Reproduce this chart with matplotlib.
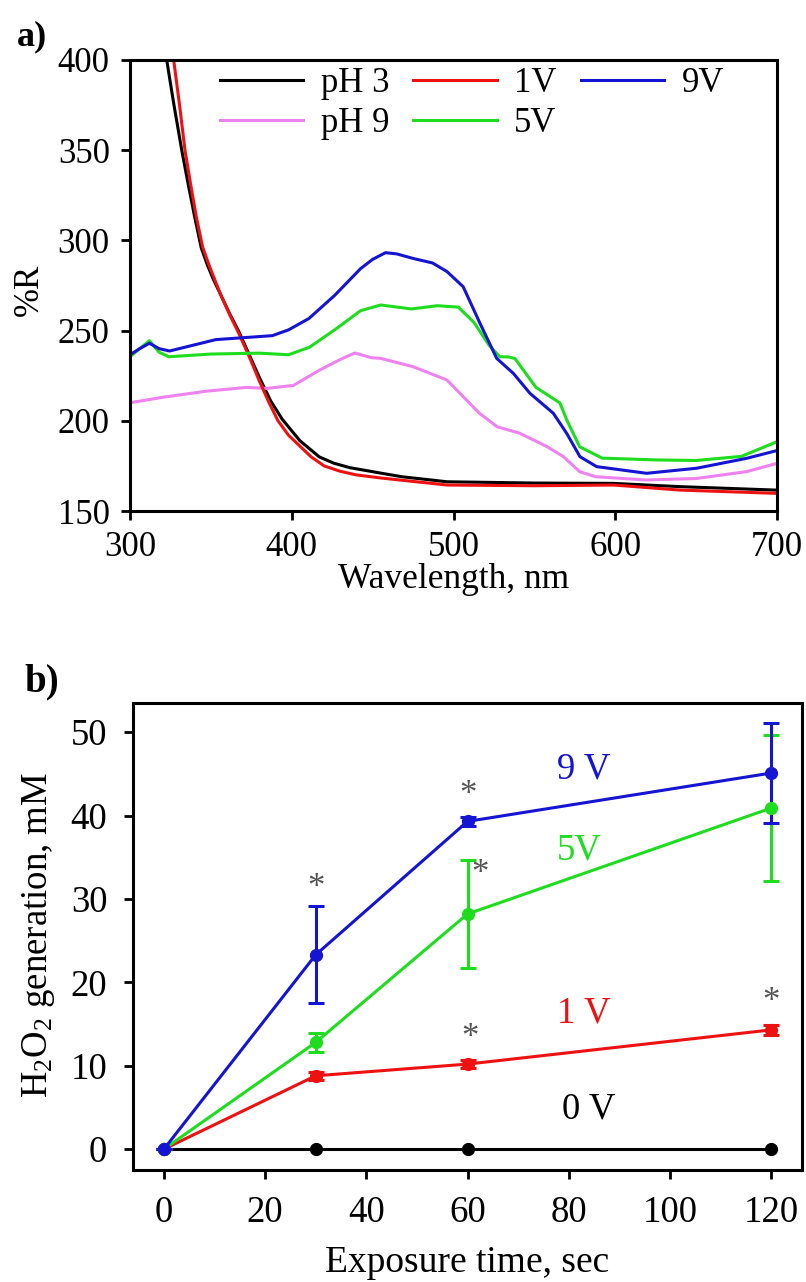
"""
Reflectance spectra (a) and H2O2 generation vs exposure time (b).
"""

import matplotlib

matplotlib.use("Agg")
import matplotlib.pyplot as plt

plt.rcParams["font.family"] = ["Liberation Serif", "DejaVu Serif"]
plt.rcParams["mathtext.fontset"] = "custom"
plt.rcParams["mathtext.rm"] = "Liberation Serif"
plt.rcParams["mathtext.it"] = "Liberation Serif:italic"

BLACK = "#000000"
RED = "#ee1111"
GREEN = "#1edc1e"
BLUE = "#1414d2"
VIOLET = "#ee82ee"
STAR = "#555555"

# ---- panel a: %R spectra ----
wl_ph3 = [322.7, 327, 332, 336, 340, 344, 348, 351.5, 356, 361.8, 367, 374, 380, 387, 394, 405, 417, 426,
          436, 455, 468, 496, 550, 599, 640, 699]
r_ph3 = [400, 376, 350, 331, 313, 296, 286, 278.5, 270, 259, 250, 236, 224, 211, 201, 189, 180, 176.5,
         174, 171, 169, 166.2, 165.5, 165.3, 163.5, 161.6]

wl_1v = [327, 330.5, 334, 337.5, 341, 345, 349, 352.5, 356, 361.8, 367, 374, 380, 386, 391.5, 398, 405,
         412, 420, 430, 440, 455, 496, 550, 599, 640, 699]
r_1v = [400, 376, 350, 331, 313, 296, 286, 278, 270, 258.5, 249, 235, 222, 210, 200, 192, 186, 180, 175,
        172, 170, 168.3, 164.4, 164, 164.4, 161.6, 159.8]

wl_ph9 = [300, 320, 347, 372, 385, 401, 417, 430, 439, 449, 455, 475, 496, 506, 516, 527, 541, 558, 568,
          578, 588, 619, 650, 681, 700]
r_ph9 = [210, 213, 216.4, 218.5, 218, 219.6, 228, 234, 237.6, 235, 234.6, 230, 222.6, 213.4, 204.2, 196.7,
         193.1, 185.6, 180.1, 171.8, 169, 167.2, 168, 171.8, 176.4]

wl_5v = [300, 306, 312, 318, 324, 350, 380, 398, 411, 426.5, 442.5, 455, 474, 490, 503, 512.6, 522, 528.6,
         534, 538, 551, 565.8, 570, 578, 592, 625.6, 650, 678, 700]
r_5v = [235.5, 240, 244.4, 238, 235.5, 237, 237.5, 236.6, 240.8, 250.4, 261, 264.2, 262, 263.8, 263, 254.6,
        241.9, 235.5, 235.4, 234.5, 218.5, 209.9, 200.5, 185.6, 179.3, 178.3, 178, 180.3, 188.4]

wl_9v = [300, 306, 312, 318, 324.5, 353, 388, 398, 410.6, 426.5, 442.5, 450, 458, 465, 475, 487, 496, 506,
         516.4, 526.7, 537, 547.3, 561.7, 570, 578.2, 588.5, 619.4, 650.3, 681.2, 700]
r_9v = [236.6, 240, 243, 240, 238.7, 245, 247.2, 250.4, 256.7, 269.5, 284.3, 289.5, 293.2, 292.5, 290,
        287.5, 282.7, 274.3, 254, 234.6, 226.3, 215.2, 204.2, 193, 180.1, 174.6, 170.9, 173.7, 179.2, 183.5]

# ---- panel b: H2O2 generation ----
t_sec = [0, 30, 60, 120]
h2o2_0v = [0, 0, 0, 0]
h2o2_1v = [0, 8.8, 10.2, 14.3]
err_1v = [0, 0.5, 0.5, 0.6]
h2o2_5v = [0, 12.8, 28.2, 40.9]
err_5v = [0, 1.1, 6.5, 8.8]
h2o2_9v = [0, 23.3, 39.3, 45.1]
err_9v = [0, 5.8, 0.5, 5.95]

# significance marks (x, y)
star_x = [30, 60, 62.4, 60.5, 120]
star_y = [31.3, 42.4, 32.9, 13.3, 17.6]


def style_axes(ax, fs):
    for sp in ax.spines.values():
        sp.set_linewidth(2.2)
    ax.tick_params(direction="out", length=6.5, width=2, labelsize=fs, colors=BLACK)


def panel_a(ax):
    ax.plot(wl_ph3, r_ph3, color=BLACK, lw=2.2, label="pH 3")
    ax.plot(wl_ph9, r_ph9, color=VIOLET, lw=2.2, label="pH 9")
    ax.plot(wl_1v, r_1v, color=RED, lw=2.2, label="1V")
    ax.plot(wl_5v, r_5v, color=GREEN, lw=2.2, label="5V")
    ax.plot(wl_9v, r_9v, color=BLUE, lw=2.2, label="9V")
    ax.set_xlim(300, 700)
    ax.set_ylim(150, 400)
    ax.set_xticks(range(300, 701, 100))
    ax.set_yticks(range(150, 401, 50))
    style_axes(ax, 25)
    ax.tick_params(axis="x", pad=8)
    ax.tick_params(axis="y", pad=8)
    ax.set_xlabel("Wavelength, nm", fontsize=25.5, va="center")
    ax.xaxis.set_label_coords(0.5, -0.151)
    ax.set_ylabel("%R", fontsize=25, va="center")
    ax.yaxis.set_label_coords(-0.155, 0.49)
    ax.legend(ncol=3, loc="upper left", bbox_to_anchor=(0.139, 0.985), frameon=False,
              fontsize=25, handlelength=2.4, handletextpad=0.5, columnspacing=0.7,
              labelspacing=0.2, borderpad=0, borderaxespad=0)


def panel_b(ax):
    ax.plot(t_sec, h2o2_0v, color=BLACK, lw=2.2, marker="o", ms=8.5)
    ax.errorbar(t_sec, h2o2_1v, yerr=err_1v, color=RED, lw=2.2, marker="o", ms=8.5,
                elinewidth=2.2, capsize=6, capthick=2.2)
    ax.errorbar(t_sec, h2o2_5v, yerr=err_5v, color=GREEN, lw=2.2, marker="o", ms=8.5,
                elinewidth=2.2, capsize=6, capthick=2.2)
    ax.errorbar(t_sec, h2o2_9v, yerr=err_9v, color=BLUE, lw=2.2, marker="o", ms=8.5,
                elinewidth=2.2, capsize=6, capthick=2.2)
    for sx, sy in zip(star_x, star_y):
        ax.text(sx, sy, "*", color=STAR, fontsize=25, ha="center", va="center")
    ax.text(83, 45.6, "9 V", color=BLUE, fontsize=26.5, ha="center", va="center")
    ax.text(82, 35.9, "5V", color=GREEN, fontsize=26.5, ha="center", va="center")
    ax.text(83, 16.3, "1 V", color=RED, fontsize=26.5, ha="center", va="center")
    ax.text(84, 4.8, "0 V", color=BLACK, fontsize=26.5, ha="center", va="center")
    ax.set_xlim(-6.1, 126.1)
    ax.set_ylim(-2.5, 53.5)
    ax.set_xticks(range(0, 121, 20))
    ax.set_yticks(range(0, 51, 10))
    style_axes(ax, 26.5)
    ax.tick_params(axis="x", pad=12)
    ax.tick_params(axis="y", pad=12)
    ax.set_xlabel("Exposure time, sec", fontsize=27, va="center")
    ax.xaxis.set_label_coords(0.5, -0.199)
    ax.set_ylabel(r"H$_2$O$_2$ generation, mM", fontsize=26.5, va="center")
    ax.yaxis.set_label_coords(-0.141, 0.503)


def main():
    fig = plt.figure(figsize=(8.06, 12.82), dpi=100)
    ax_a = fig.add_axes([130 / 806, 771 / 1282, 647 / 806, 451 / 1282])
    ax_b = fig.add_axes([133 / 806, 112 / 1282, 669 / 806, 467 / 1282])
    panel_a(ax_a)
    panel_b(ax_b)
    fig.text(32 / 806, 1 - 37 / 1282, "a)", fontsize=26, fontweight="bold", ha="center", va="center")
    fig.text(42 / 806, 1 - 682 / 1282, "b)", fontsize=28, fontweight="bold", ha="center", va="center")
    fig.savefig("out.png", dpi=100, facecolor="white")
    plt.close(fig)


if __name__ == "__main__":
    main()
